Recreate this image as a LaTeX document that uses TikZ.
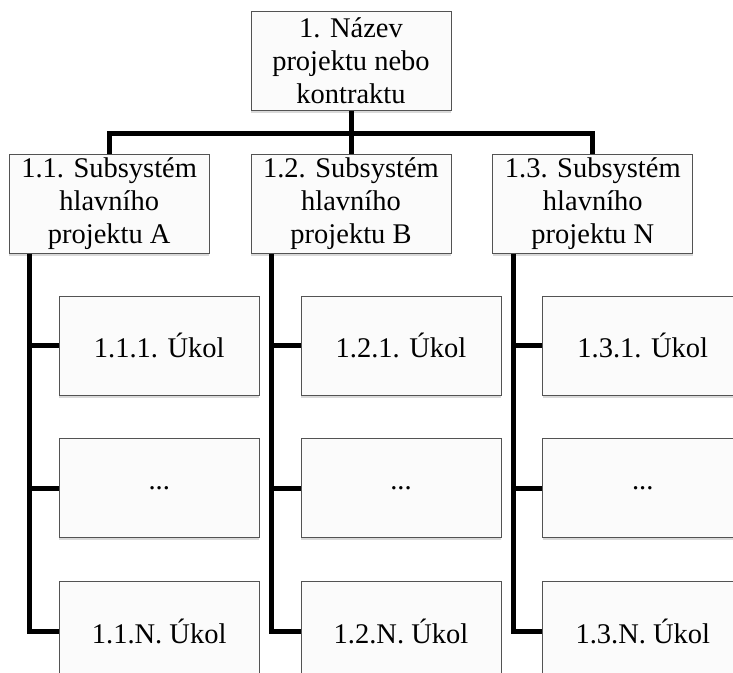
\documentclass[tikz,border=0pt]{standalone}
\usepackage{fontspec}
\setmainfont{Liberation Serif}
\usetikzlibrary{positioning,shadows}

\tikzset{
  box/.style = {draw=gray!65!black, line width=0.8pt, fill=gray!3,
    minimum width=200pt, minimum height=99pt, inner sep=2pt, align=center,
    font=\fontsize{28.5}{33}\selectfont,
    drop shadow={opacity=0.3, shadow xshift=0pt, shadow yshift=-2.5pt}},
  conn/.style = {draw=black, line width=5pt}
}

\begin{document}
\begin{tikzpicture}[x=1pt,y=1pt]
    \clip (0,0) rectangle (733,672);
    \useasboundingbox (0,0) rectangle (733,672);

    \node[box] (top) at (351,611) {1. Název\\projektu nebo\\kontraktu};
    \node[box] (s2) [below=43pt of top] {1.2. Subsystém\\hlavního\\projektu B};
    \node[box] (s1) [left=41pt of s2] {1.1. Subsystém\\hlavního\\projektu A};
    \node[box] (s3) [right=41pt of s2] {1.3. Subsystém\\hlavního\\projektu N};

    \node[box] (t11) [below=42pt of s1, xshift=50pt] {1.1.1. Úkol};
    \node[box] (t12) [below=43pt of t11] {...};
    \node[box] (t13) [below=43pt of t12] {1.1.N. Úkol};
    \node[box] (t21) [below=42pt of s2, xshift=50pt] {1.2.1. Úkol};
    \node[box] (t22) [below=43pt of t21] {...};
    \node[box] (t23) [below=43pt of t22] {1.2.N. Úkol};
    \node[box] (t31) [below=42pt of s3, xshift=50pt] {1.3.1. Úkol};
    \node[box] (t32) [below=43pt of t31] {...};
    \node[box] (t33) [below=43pt of t32] {1.3.N. Úkol};

    \coordinate[below=23pt of top.south] (hub);
    \coordinate[right=21pt of s1.south west] (r1);
    \coordinate[right=21pt of s2.south west] (r2);
    \coordinate[right=21pt of s3.south west] (r3);

    \draw[conn] (top.south) -- (hub) -- (s2.north);
    \draw[conn] (s1.north) |- (hub) -| (s3.north);

    \draw[conn] (r1) |- (t13.west);
    \draw[conn] (r1 |- t11.west) -- (t11.west);
    \draw[conn] (r1 |- t12.west) -- (t12.west);
    \draw[conn] (r2) |- (t23.west);
    \draw[conn] (r2 |- t21.west) -- (t21.west);
    \draw[conn] (r2 |- t22.west) -- (t22.west);
    \draw[conn] (r3) |- (t33.west);
    \draw[conn] (r3 |- t31.west) -- (t31.west);
    \draw[conn] (r3 |- t32.west) -- (t32.west);
\end{tikzpicture}
\end{document}
